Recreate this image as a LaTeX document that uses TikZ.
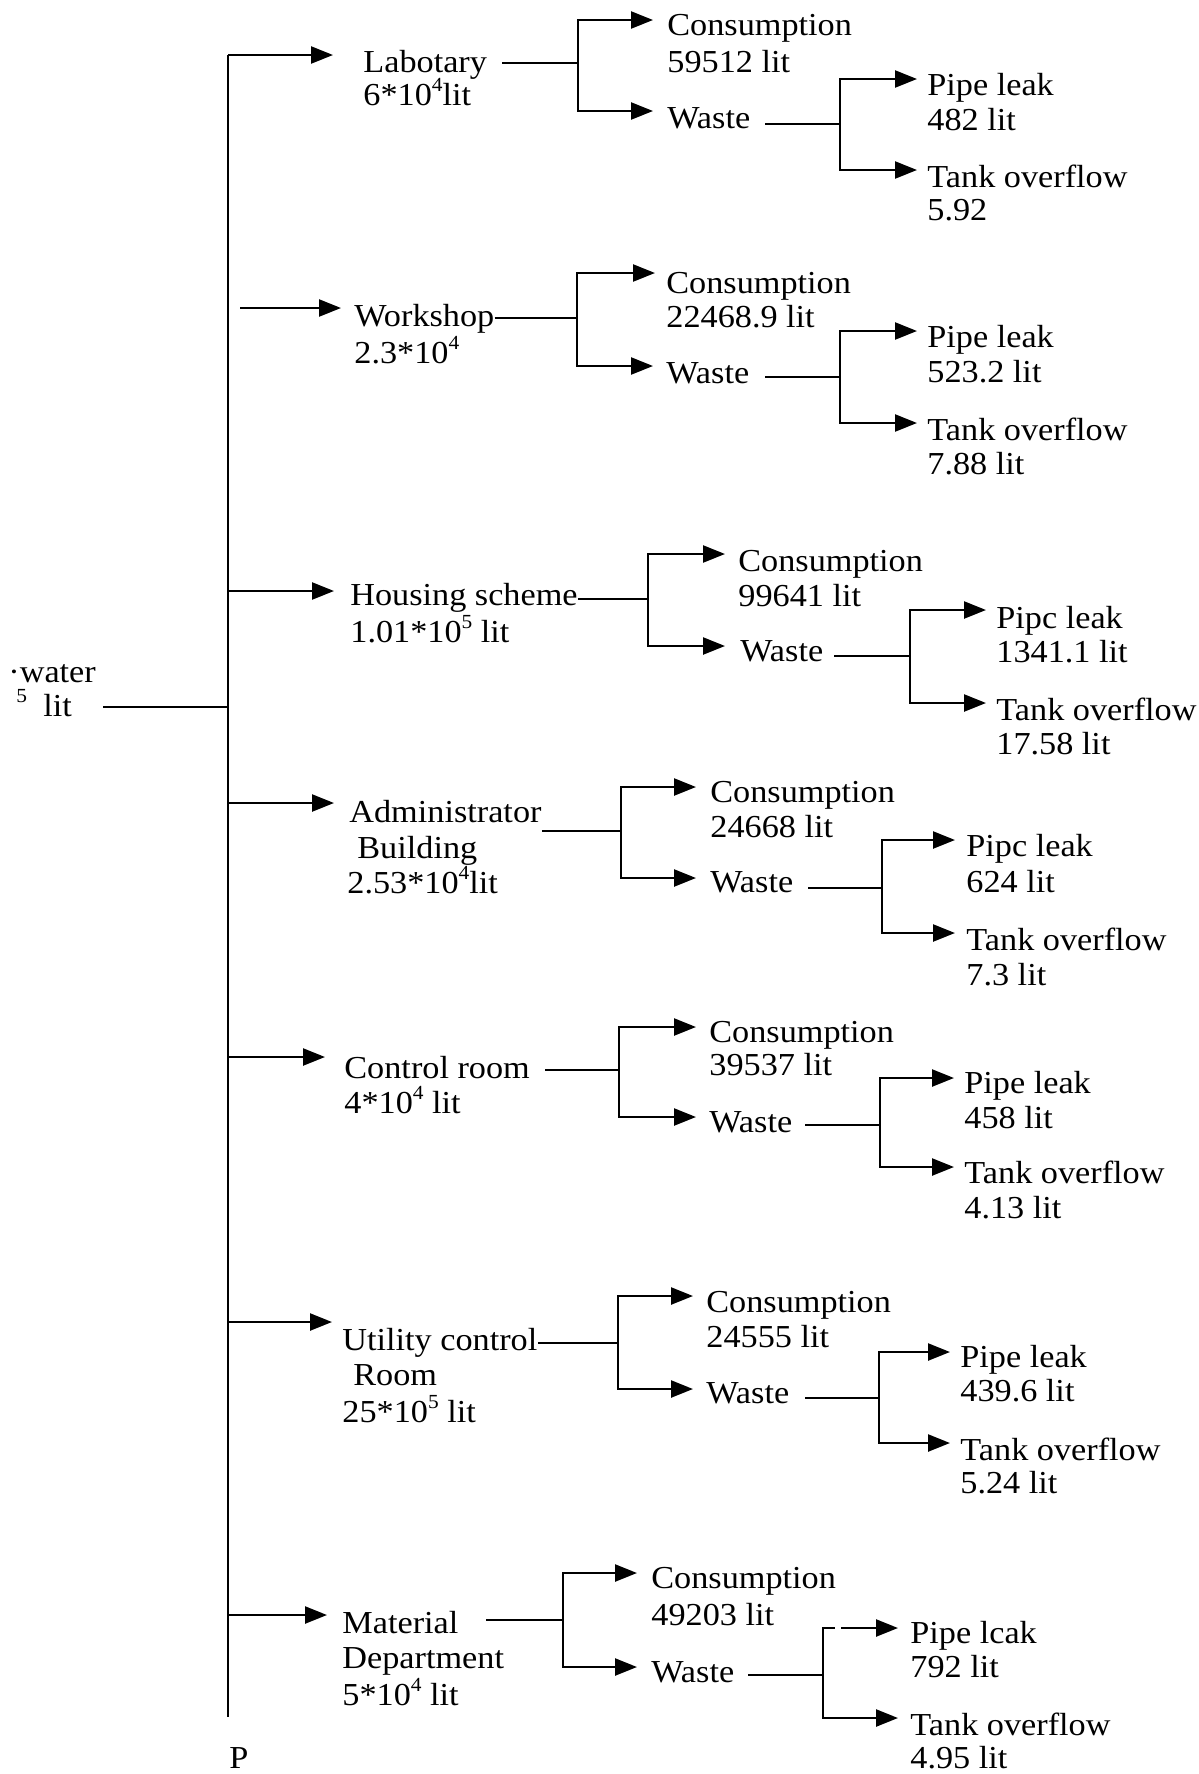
\documentclass[tikz,border=0pt]{standalone}
\usepackage{fontspec}
\setmainfont{Liberation Serif}[FakeStretch=1.07]
\usetikzlibrary{arrows.meta}
\begin{document}
\begin{tikzpicture}[x=0.5pt,y=-0.5pt,
  lbl/.style={anchor=base west,inner sep=0pt,font=\fontsize{16}{17.5}\selectfont},
  ln/.style={line width=1.2pt},
  arr/.style={line width=1.2pt,-{Triangle[length=11pt,width=8.5pt]}}]
\fill[white] (0,0) rectangle (1199,1774);
\path[use as bounding box] (0,0) rectangle (1199,1774);
\newcommand\sups[1]{\raisebox{0.42em}{\fontsize{10}{10}\selectfont #1}}

% input and trunk
\node[lbl] (inA) at (8,682) {·water};
\node[lbl] (inB) at (16,716) {\sups{5}};
\node[lbl] (inC) at (43,716) {lit};
\coordinate (in0) at (103,707);
\coordinate (inT) at (228,707);
\coordinate (trT) at (228,55);
\coordinate (trB) at (228,1717);
\draw[ln] (trT) -- (trB);
\draw[ln] (in0) -- (inT);
\node[lbl] (P) at (229,1768) {P};

% ---------- Section 1: Labotary
\coordinate (t1) at (228,55); \coordinate (a1) at (333,55);
\draw[arr] (t1) -- (a1);
\node[lbl] (d1) at (363,72) {Labotary};
\node[lbl] (d1v) at (363,105) {6*10\sups{4}lit};
\coordinate (p1) at (502,63); \coordinate (q1) at (578,63);
\coordinate (c1) at (653,20); \coordinate (w1) at (653,111);
\draw[ln] (p1) -- (q1);
\draw[arr] (q1) |- (c1); \draw[arr] (q1) |- (w1);
\node[lbl] (c1n) at (667,35) {Consumption};
\node[lbl] (c1v) at (667,72) {59512 lit};
\node[lbl] (w1n) at (667,128) {Waste};
\coordinate (r1) at (765,124); \coordinate (s1) at (840,124);
\coordinate (k1) at (917,79); \coordinate (o1) at (917,170);
\draw[ln] (r1) -- (s1);
\draw[arr] (s1) |- (k1); \draw[arr] (s1) |- (o1);
\node[lbl] (k1n) at (927,95) {Pipe leak};
\node[lbl] (k1v) at (927,130) {482 lit};
\node[lbl] (o1n) at (927,187) {Tank overflow};
\node[lbl] (o1v) at (927,220) {5.92};

% ---------- Section 2: Workshop
\coordinate (t2) at (240,308); \coordinate (a2) at (341,308);
\draw[arr] (t2) -- (a2);
\node[lbl] (d2) at (354,326) {Workshop};
\node[lbl] (d2v) at (354,363) {2.3*10\sups{4}};
\coordinate (q2) at (577,318);
\coordinate (c2) at (655,273); \coordinate (w2) at (653,366);
\draw[ln] (d2.east |- q2) -- (q2);
\draw[arr] (q2) |- (c2); \draw[arr] (q2) |- (w2);
\node[lbl] (c2n) at (666,293) {Consumption};
\node[lbl] (c2v) at (666,327) {22468.9 lit};
\node[lbl] (w2n) at (666,383) {Waste};
\coordinate (r2) at (765,377); \coordinate (s2) at (840,377);
\coordinate (k2) at (917,331); \coordinate (o2) at (917,423);
\draw[ln] (r2) -- (s2);
\draw[arr] (s2) |- (k2); \draw[arr] (s2) |- (o2);
\node[lbl] (k2n) at (927,347) {Pipe leak};
\node[lbl] (k2v) at (927,382) {523.2 lit};
\node[lbl] (o2n) at (927,440) {Tank overflow};
\node[lbl] (o2v) at (927,474) {7.88 lit};

% ---------- Section 3: Housing scheme
\coordinate (t3) at (228,591); \coordinate (a3) at (334,591);
\draw[arr] (t3) -- (a3);
\node[lbl] (d3) at (350,605) {Housing scheme};
\node[lbl] (d3v) at (350,642) {1.01*10\sups{5} lit};
\coordinate (q3) at (648,599);
\coordinate (c3) at (725,554); \coordinate (w3) at (725,646);
\draw[ln] (d3.east |- q3) -- (q3);
\draw[arr] (q3) |- (c3); \draw[arr] (q3) |- (w3);
\node[lbl] (c3n) at (738,571) {Consumption};
\node[lbl] (c3v) at (738,606) {99641 lit};
\node[lbl] (w3n) at (740,661) {Waste};
\coordinate (r3) at (834,656); \coordinate (s3) at (910,656);
\coordinate (k3) at (986,610); \coordinate (o3) at (986,703);
\draw[ln] (r3) -- (s3);
\draw[arr] (s3) |- (k3); \draw[arr] (s3) |- (o3);
\node[lbl] (k3n) at (996,628) {Pipc leak};
\node[lbl] (k3v) at (996,662) {1341.1 lit};
\node[lbl] (o3n) at (996,720) {Tank overflow};
\node[lbl] (o3v) at (996,754) {17.58 lit};

% ---------- Section 4: Administrator Building
\coordinate (t4) at (228,803); \coordinate (a4) at (334,803);
\draw[arr] (t4) -- (a4);
\node[lbl] (d4) at (349,822) {Administrator};
\node[lbl] (d4b) at (357,858) {Building};
\node[lbl] (d4v) at (347,893) {2.53*10\sups{4}lit};
\coordinate (q4) at (621,831);
\coordinate (c4) at (696,787); \coordinate (w4) at (696,878);
\draw[ln] (d4.east |- q4) -- (q4);
\draw[arr] (q4) |- (c4); \draw[arr] (q4) |- (w4);
\node[lbl] (c4n) at (710,802) {Consumption};
\node[lbl] (c4v) at (710,837) {24668 lit};
\node[lbl] (w4n) at (710,892) {Waste};
\coordinate (r4) at (808,888); \coordinate (s4) at (882,888);
\coordinate (k4) at (955,840); \coordinate (o4) at (955,933);
\draw[ln] (r4) -- (s4);
\draw[arr] (s4) |- (k4); \draw[arr] (s4) |- (o4);
\node[lbl] (k4n) at (966,856) {Pipc leak};
\node[lbl] (k4v) at (966,892) {624 lit};
\node[lbl] (o4n) at (966,950) {Tank overflow};
\node[lbl] (o4v) at (966,985) {7.3 lit};

% ---------- Section 5: Control room
\coordinate (t5) at (228,1057); \coordinate (a5) at (325,1057);
\draw[arr] (t5) -- (a5);
\node[lbl] (d5) at (344,1078) {Control room};
\node[lbl] (d5v) at (344,1113) {4*10\sups{4} lit};
\coordinate (p5) at (545,1070); \coordinate (q5) at (619,1070);
\coordinate (c5) at (696,1027); \coordinate (w5) at (696,1117);
\draw[ln] (p5) -- (q5);
\draw[arr] (q5) |- (c5); \draw[arr] (q5) |- (w5);
\node[lbl] (c5n) at (709,1042) {Consumption};
\node[lbl] (c5v) at (709,1075) {39537 lit};
\node[lbl] (w5n) at (709,1132) {Waste};
\coordinate (r5) at (805,1125); \coordinate (s5) at (880,1125);
\coordinate (k5) at (954,1078); \coordinate (o5) at (954,1167);
\draw[ln] (r5) -- (s5);
\draw[arr] (s5) |- (k5); \draw[arr] (s5) |- (o5);
\node[lbl] (k5n) at (964,1093) {Pipe leak};
\node[lbl] (k5v) at (964,1128) {458 lit};
\node[lbl] (o5n) at (964,1183) {Tank overflow};
\node[lbl] (o5v) at (964,1218) {4.13 lit};

% ---------- Section 6: Utility control Room
\coordinate (t6) at (228,1322); \coordinate (a6) at (332,1322);
\draw[arr] (t6) -- (a6);
\node[lbl] (d6) at (342,1350) {Utility control};
\node[lbl] (d6b) at (353,1385) {Room};
\node[lbl] (d6v) at (342,1422) {25*10\sups{5} lit};
\coordinate (q6) at (618,1343);
\coordinate (c6) at (693,1296); \coordinate (w6) at (693,1389);
\draw[ln] (d6.east |- q6) -- (q6);
\draw[arr] (q6) |- (c6); \draw[arr] (q6) |- (w6);
\node[lbl] (c6n) at (706,1312) {Consumption};
\node[lbl] (c6v) at (706,1347) {24555 lit};
\node[lbl] (w6n) at (706,1403) {Waste};
\coordinate (r6) at (805,1398); \coordinate (s6) at (879,1398);
\coordinate (k6) at (950,1352); \coordinate (o6) at (950,1443);
\draw[ln] (r6) -- (s6);
\draw[arr] (s6) |- (k6); \draw[arr] (s6) |- (o6);
\node[lbl] (k6n) at (960,1367) {Pipe leak};
\node[lbl] (k6v) at (960,1401) {439.6 lit};
\node[lbl] (o6n) at (960,1460) {Tank overflow};
\node[lbl] (o6v) at (960,1493) {5.24 lit};

% ---------- Section 7: Material Department
\coordinate (t7) at (228,1615); \coordinate (a7) at (327,1615);
\draw[arr] (t7) -- (a7);
\node[lbl] (d7) at (342,1633) {Material};
\node[lbl] (d7b) at (342,1668) {Department};
\node[lbl] (d7v) at (342,1705) {5*10\sups{4} lit};
\coordinate (p7) at (486,1620); \coordinate (q7) at (563,1620);
\coordinate (c7) at (637,1573); \coordinate (w7) at (637,1667);
\draw[ln] (p7) -- (q7);
\draw[arr] (q7) |- (c7); \draw[arr] (q7) |- (w7);
\node[lbl] (c7n) at (651,1588) {Consumption};
\node[lbl] (c7v) at (651,1625) {49203 lit};
\node[lbl] (w7n) at (651,1682) {Waste};
\coordinate (r7) at (748,1675); \coordinate (s7) at (823,1675);
\coordinate (s7t) at (823,1628); \coordinate (g7a) at (835,1628);
\coordinate (g7b) at (841,1628);
\coordinate (k7) at (898,1628); \coordinate (o7) at (898,1718);
\draw[ln] (r7) -- (s7);
\draw[ln] (s7) -- (s7t) -- (g7a);
\draw[arr] (g7b) -- (k7);
\draw[arr] (s7) |- (o7);
\node[lbl] (k7n) at (910,1643) {Pipe lcak};
\node[lbl] (k7v) at (910,1677) {792 lit};
\node[lbl] (o7n) at (910,1735) {Tank overflow};
\node[lbl] (o7v) at (910,1768) {4.95 lit};
\end{tikzpicture}
\end{document}
